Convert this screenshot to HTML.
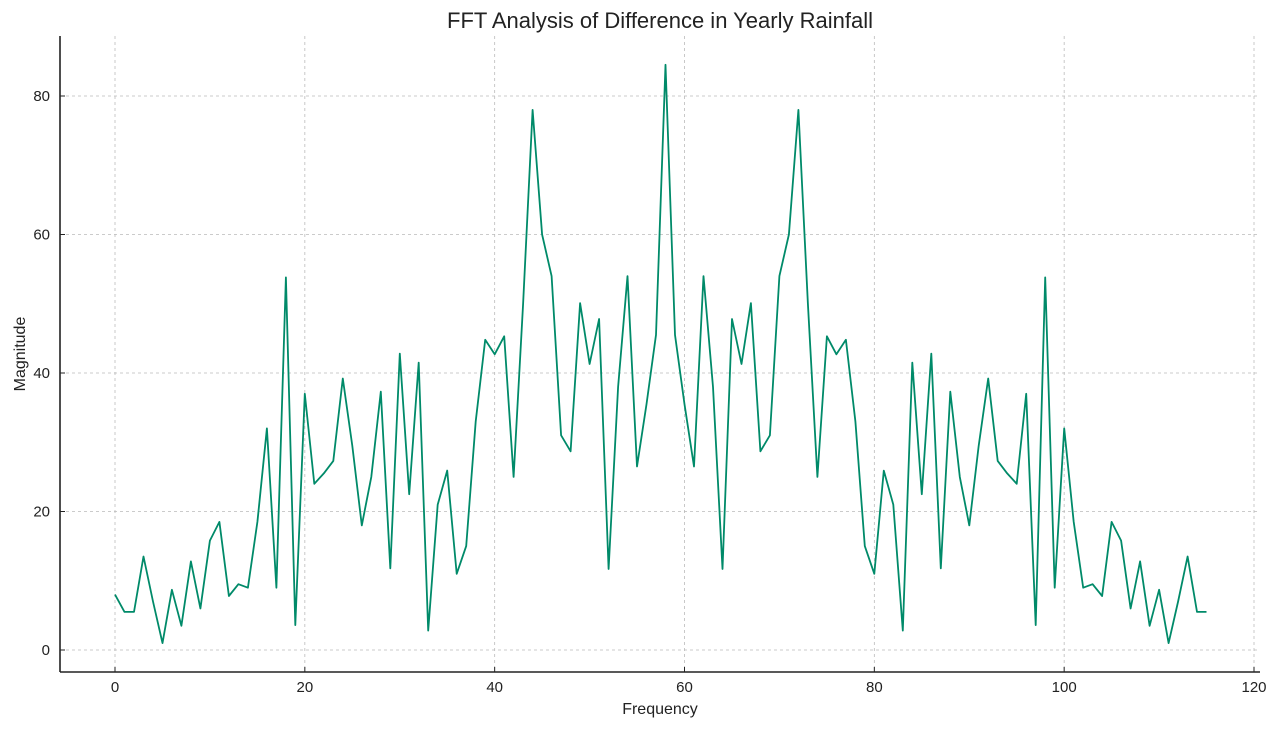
<!DOCTYPE html>
<html><head><meta charset="utf-8"><style>
body{margin:0;background:#fff;}
svg text{font-family:"Liberation Sans","DejaVu Sans",sans-serif;fill:#222;}
</style></head><body>
<svg id="chart" width="1280" height="727" xmlns="http://www.w3.org/2000/svg">
<text x="660" y="28" font-size="22" text-anchor="middle">FFT Analysis of Difference in Yearly Rainfall</text>
<text x="660" y="714" font-size="16" text-anchor="middle">Frequency</text>
<text transform="translate(25,354) rotate(-90)" font-size="16" text-anchor="middle">Magnitude</text>
<g id="grid"></g><g id="axes"></g><g id="series"></g>
</svg>
<script>
const magnitudes=[8,5.5,5.5,13.5,7,1,8.7,3.5,12.8,6,15.8,18.5,7.8,9.5,9,18.5,32,9,53.8,3.6,37,24,25.5,27.3,39.2,29.5,18,25,37.3,11.8,42.8,22.5,41.5,2.8,21,25.9,11,15,33,44.8,42.7,45.3,25,50,78,60,54,31,28.7,50.1,41.3,47.8,11.7,38,54,26.5,35.5,45.5,84.5,45.5,35.5,26.5,54,38,11.7,47.8,41.3,50.1,28.7,31,54,60,78,50,25,45.3,42.7,44.8,33,15,11,25.9,21,2.8,41.5,22.5,42.8,11.8,37.3,25,18,29.5,39.2,27.3,25.5,24,37,3.6,53.8,9,32,18.5,9,9.5,7.8,18.5,15.8,6,12.8,3.5,8.7,1,7,13.5,5.5,5.5];
const xTicks=[0,20,40,60,80,100,120];
const yTicks=[0,20,40,60,80];
const NS="http://www.w3.org/2000/svg";
const L=60,R=1260,T=36,B=672;
const xs=v=>115+v*(1254-115)/120;
const ys=v=>650-v*(650-96)/80;
function mk(tag,attrs,parent){const e=document.createElementNS(NS,tag);for(const k in attrs)e.setAttribute(k,attrs[k]);parent.appendChild(e);return e;}
const grid=document.getElementById('grid'),axes=document.getElementById('axes'),series=document.getElementById('series');
xTicks.forEach(t=>{const x=xs(t);
 const g=mk('line',{x1:x,x2:x,y1:T,y2:B,stroke:'#bbb','stroke-dasharray':'3,3','stroke-width':0.8},grid);
 
 
 mk('line',{x1:x,x2:x,y1:B,y2:B-5,stroke:'#222'},axes);
 const tx=mk('text',{x:x,y:B+20,'font-size':15,'text-anchor':'middle'},axes);tx.textContent=t;
 
 
});
yTicks.forEach(t=>{const y=ys(t);
 const g=mk('line',{x1:L,x2:R,y1:y,y2:y,stroke:'#bbb','stroke-dasharray':'3,3','stroke-width':0.8},grid);
 
 
 mk('line',{x1:L,x2:L+5,y1:y,y2:y,stroke:'#222'},axes);
 const tx=mk('text',{x:L-10,y:y+5,'font-size':15,'text-anchor':'end'},axes);tx.textContent=t;
 
 
});
const xa=mk('line',{x1:L,x2:R,y1:B,y2:B,stroke:'#222','stroke-width':1.6},axes);


const ya=mk('line',{x1:L,x2:L,y1:T,y2:B,stroke:'#222','stroke-width':1.6},axes);


const pts=magnitudes.map((v,i)=>xs(i).toFixed(1)+','+ys(v).toFixed(1)).join(' ');
const pl=mk('polyline',{points:pts,fill:'none',stroke:'#008a69','stroke-width':1.8,'stroke-linejoin':'round'},series);


</script>
</body></html>
